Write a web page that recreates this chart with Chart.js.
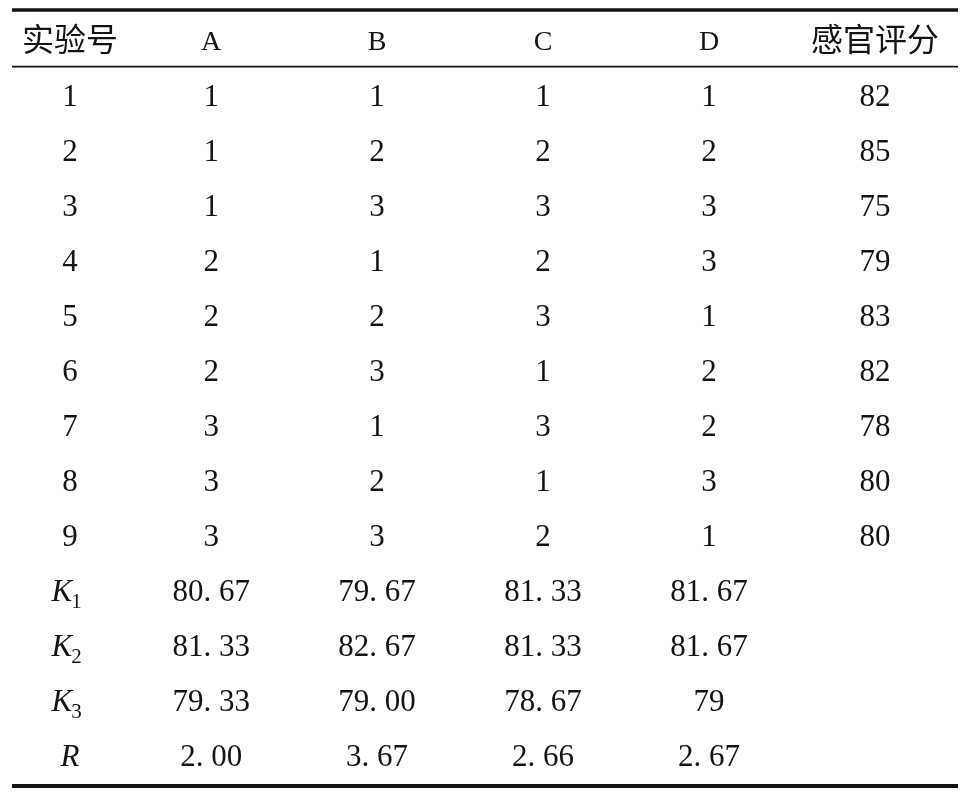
<!DOCTYPE html>
<html>
<head>
<meta charset="utf-8">
<script src="https://cdn.jsdelivr.net/npm/chart.js@4.4.1/dist/chart.umd.min.js"></script>
<style>
  html, body { margin: 0; padding: 0; background: #fff; }
  canvas { display: block; }
</style>
</head>
<body>
<canvas id="table-chart" width="960" height="800"></canvas>
<script>
// 表头与行标签
const columns = ["实验号", "A", "B", "C", "D", "感官评分"];
const runs = ["1", "2", "3", "4", "5", "6", "7", "8", "9"];
const summaryRows = ["K1", "K2", "K3", "R"];

// 正交试验设计 L9(3^4)
const factorA = [1, 1, 1, 2, 2, 2, 3, 3, 3];
const factorB = [1, 2, 3, 1, 2, 3, 1, 2, 3];
const factorC = [1, 2, 3, 2, 3, 1, 3, 1, 2];
const factorD = [1, 2, 3, 3, 1, 2, 2, 3, 1];
const scores = [82, 85, 75, 79, 83, 82, 78, 80, 80];

// 极差分析 (A, B, C, D)
const k1 = ["80. 67", "79. 67", "81. 33", "81. 67"];
const k2 = ["81. 33", "82. 67", "81. 33", "81. 67"];
const k3 = ["79. 33", "79. 00", "78. 67", "79"];
const rangeR = ["2. 00", "3. 67", "2. 66", "2. 67"];

// 列宽（相对单位）
const colWidths = [0.7, 1, 1, 1, 1, 1];

const SERIF = '"Liberation Serif", "Times New Roman", serif';
const CJK = '"Noto Sans CJK SC", "Noto Sans CJK TC", sans-serif';
const INK = "#141414";

function colCenter(j) {
    let s = 0;
    for (let i = 0; i < j; i++) s += colWidths[i];
    return s + colWidths[j] / 2;
}

function buildColumn(j) {
    const factors = [factorA, factorB, factorC, factorD];
    const rowLabels = [...runs, ...summaryRows];
    let cells;
    if (j === 0) {
        cells = rowLabels;
    } else if (j <= 4) {
        const f = j - 1;
        cells = [...factors[f].map(String), k1[f], k2[f], k3[f], rangeR[f]];
    } else {
        cells = [...scores.map(String), "", "", "", ""];
    }
    cells = [columns[j], ...cells];
    return {
        label: columns[j],
        cells,
        data: cells.map((_, i) => ({ x: colCenter(j), y: i })),
        pointRadius: 0,
        pointHoverRadius: 0
    };
}

function isCJK(s) {
    return /[\u4e00-\u9fff]/.test(s);
}

function drawCell(ctx, text, x, y, isHeader) {
    if (!text) return;
    ctx.fillStyle = INK;
    ctx.textAlign = "center";
    if (isCJK(text)) {
        ctx.font = `32px ${CJK}`;
        ctx.textBaseline = "middle";
        ctx.fillText(text, x, y - 2);
        return;
    }
    const size = isHeader ? 28 : 31;
    const base = y + size * 0.34;
    ctx.textBaseline = "alphabetic";
    const m = text.match(/^K(\d)$/);
    if (m) {
        ctx.font = `italic ${size}px ${SERIF}`;
        const wMain = ctx.measureText("K").width;
        ctx.font = `21px ${SERIF}`;
        const wSub = ctx.measureText(m[1]).width;
        const left = x - (wMain + wSub) / 2 - 3;
        ctx.textAlign = "left";
        ctx.font = `italic ${size}px ${SERIF}`;
        ctx.fillText("K", left, base);
        ctx.font = `21px ${SERIF}`;
        ctx.fillText(m[1], left + wMain - 1, base + 7);
        return;
    }
    if (text === "R") {
        ctx.font = `italic ${size}px ${SERIF}`;
        ctx.fillText(text, x, base);
        return;
    }
    ctx.font = `${size}px ${SERIF}`;
    ctx.fillText(text, x, base);
}

const tablePlugin = {
    id: "tableCells",
    beforeDatasetsDraw(chart) {
        const { ctx, chartArea, scales } = chart;
        ctx.save();
        ctx.strokeStyle = INK;
        const rule = (yPix, w) => {
            ctx.lineWidth = w;
            ctx.beginPath();
            ctx.moveTo(chartArea.left, yPix);
            ctx.lineTo(chartArea.right, yPix);
            ctx.stroke();
        };
        rule(chartArea.top, 3.5);
        rule(scales.y.getPixelForValue(0.47), 1.8);
        rule(chartArea.bottom, 4);
        ctx.restore();
    },
    afterDatasetsDraw(chart) {
        const { ctx } = chart;
        ctx.save();
        chart.data.datasets.forEach((ds, di) => {
            const meta = chart.getDatasetMeta(di);
            meta.data.forEach((pt, i) => {
                drawCell(ctx, ds.cells[i], pt.x, pt.y, i === 0);
            });
        });
        ctx.restore();
    }
};

new Chart(document.getElementById("table-chart"), {
    type: "scatter",
    data: { datasets: columns.map((_, j) => buildColumn(j)) },
    options: {
        responsive: false,
        animation: false,
        events: [],
        devicePixelRatio: 1,
        layout: { padding: { left: 12, right: 2, top: 10, bottom: 14 } },
        scales: {
            x: { type: "linear", min: 0, max: colWidths.reduce((a, b) => a + b, 0), display: false },
            y: { type: "linear", reverse: true, min: -0.56, max: 13.55, display: false }
        },
        plugins: { legend: { display: false }, tooltip: { enabled: false } }
    },
    plugins: [tablePlugin]
});
</script>
</body>
</html>
